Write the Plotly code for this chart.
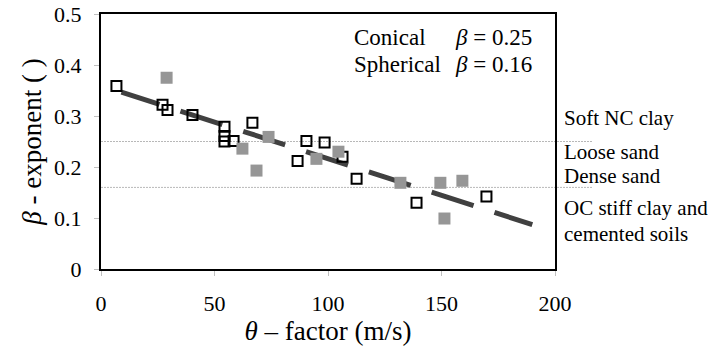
import plotly.graph_objects as go

# Conical tests (open black squares)
con_x = [6.8, 27.1, 29.3, 40.3, 54.4, 54.4, 54.4, 58.4, 66.7, 86.6, 90.5, 98.5, 106.4, 112.6, 139.0, 169.8]
con_y = [0.359, 0.322, 0.312, 0.302, 0.279, 0.261, 0.250, 0.251, 0.287, 0.212, 0.251, 0.248, 0.220, 0.177, 0.130, 0.142]

# Spherical tests (filled gray squares)
sph_x = [28.9, 62.3, 68.5, 73.8, 94.9, 104.6, 131.9, 149.5, 159.2, 151.3]
sph_y = [0.375, 0.236, 0.193, 0.259, 0.216, 0.230, 0.169, 0.169, 0.173, 0.099]

# Trend line end points
trend_x = [9.0, 190.0]
trend_y = [0.347, 0.087]

# Reference beta levels
beta_levels = [0.25, 0.16]

x_ticks = [0, 50, 100, 150, 200]
y_ticks = [0, 0.1, 0.2, 0.3, 0.4, 0.5]
y_tick_text = ["0", "0.1", "0.2", "0.3", "0.4", "0.5"]

FONT = "Liberation Serif"

fig = go.Figure()
fig.add_trace(go.Scatter(
    x=trend_x, y=trend_y, mode="lines",
    line=dict(color="#404040", width=5, dash="40px,22px,4px,0px"),
    showlegend=False, hoverinfo="skip"))
fig.add_trace(go.Scatter(
    x=con_x, y=con_y, mode="markers",
    marker=dict(symbol="square-open", size=10, color="black", line=dict(width=2, color="black")),
    showlegend=False))
fig.add_trace(go.Scatter(
    x=sph_x, y=sph_y, mode="markers",
    marker=dict(symbol="square", size=12, color="#969696", line=dict(width=0)),
    showlegend=False))

for lv in beta_levels:
    fig.add_shape(type="line", xref="paper", yref="y", x0=0, x1=1.082, y0=lv, y1=lv,
                  line=dict(color="#b8b8b8", width=1, dash="2px,1px"), layer="below")

W = 454.0
H = 255.0
def px(xp):
    return (xp - 101.0) / W
def py(yp):
    return (269.0 - yp) / H

annots = [
    ("Conical", 352, 37, 23),
    ("Spherical", 352, 65, 23),
    ("<i>β</i> = 0.25", 453, 37, 23),
    ("<i>β</i> = 0.16", 453, 65, 23),
    ("Soft NC clay", 562, 118, 21),
    ("Loose sand", 562, 152, 21),
    ("Dense sand", 562, 176, 21),
    ("OC stiff clay and", 562, 208, 21),
    ("cemented soils", 562, 234, 21),
]
for t, xx, yy, fs in annots:
    fig.add_annotation(text=t, xref="paper", yref="paper", x=px(xx), y=py(yy),
                       xanchor="left", yanchor="middle", showarrow=False,
                       font=dict(family=FONT, size=fs, color="black"))

fig.update_layout(
    width=715, height=348,
    margin=dict(l=101, r=160, t=14, b=79, autoexpand=False),
    paper_bgcolor="white", plot_bgcolor="white",
    font=dict(family=FONT, color="black"),
    xaxis=dict(range=[0, 200], tickvals=x_ticks, showgrid=False, zeroline=False, automargin=False,
               showline=True, linecolor="black", linewidth=2, mirror=True,
               ticks="outside", ticklen=5, tickcolor="#c0c0c0", tickwidth=1,
               tickfont=dict(size=22, family=FONT, color="black"), ticklabelstandoff=9,
               title=dict(text="<i>θ</i> – factor (m/s)", font=dict(size=27, family=FONT, color="black"), standoff=5)),
    yaxis=dict(range=[0, 0.5], tickvals=y_ticks, ticktext=y_tick_text, showgrid=False, zeroline=False, automargin=False,
               showline=True, linecolor="black", linewidth=2, mirror=True,
               ticks="outside", ticklen=5, tickcolor="#c0c0c0", tickwidth=1,
               tickfont=dict(size=22, family=FONT, color="black"), ticklabelstandoff=8,
               title=dict(text="<i>β</i> - exponent ( )", font=dict(size=27, family=FONT, color="black"), standoff=5)),
)

fig.write_html("out.html", config={"displayModeBar": False},
               post_script="document.body.style.margin='0';document.body.style.overflow='hidden';")
